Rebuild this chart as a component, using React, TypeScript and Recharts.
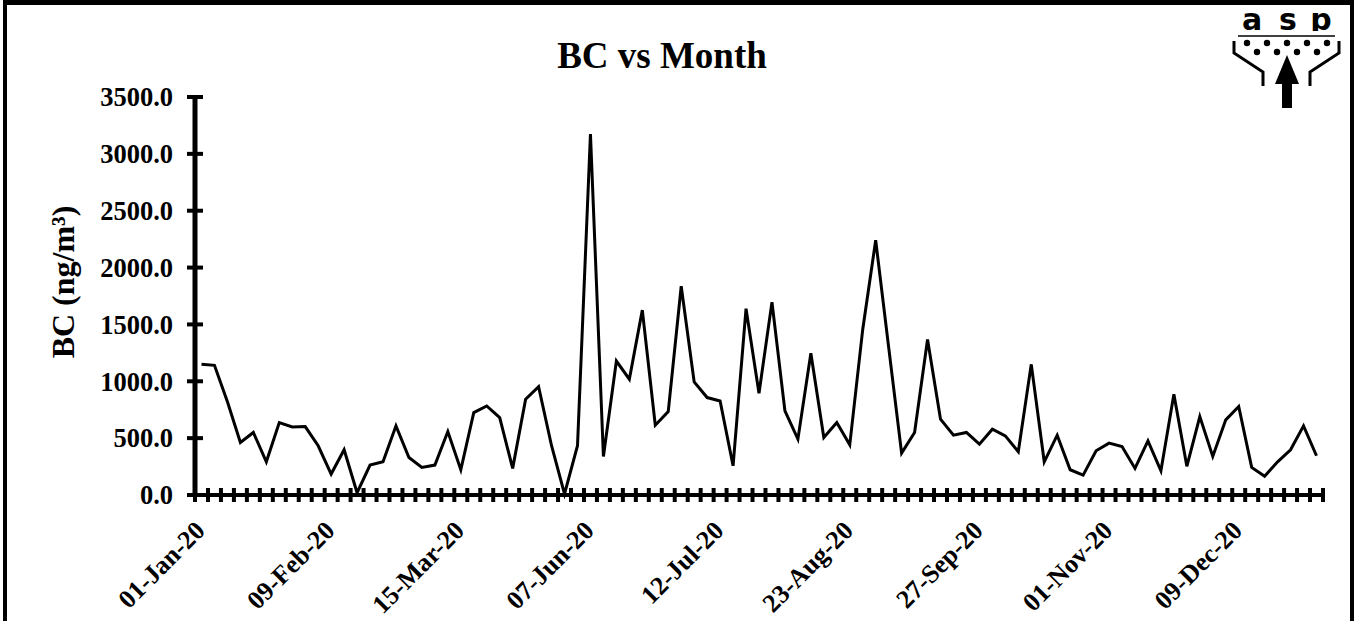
import React from "react"
import { LineChart, Line, XAxis, YAxis } from "recharts"

// BC readings (ng/m3), one per sampling day
const bcValues = [
  1150, 1140, 820, 462, 550, 292, 637, 599, 602, 433,
  184, 398, 20, 263, 292, 608, 330, 243, 263, 558,
  222, 725, 783, 681, 234, 842, 953, 433, 10, 433,
  3175, 339, 1178, 1018, 1626, 614, 734, 1836, 994, 857,
  827, 257, 1638, 895, 1696, 740, 491, 1246, 506, 637,
  441, 1456, 2240, 1300, 368, 550, 1368, 667, 526, 550,
  447, 579, 520, 380, 1149, 292, 526, 222, 175, 389,
  456, 427, 234, 476, 213, 886, 252, 690, 339, 661,
  778, 243, 164, 292, 398, 608, 345,
]

// labelled every 10th sample
const tickLabels = [
  "01-Jan-20", "09-Feb-20", "15-Mar-20", "07-Jun-20", "12-Jul-20",
  "23-Aug-20", "27-Sep-20", "01-Nov-20", "09-Dec-20",
]
const labelEvery = 10

const yTicks = [0, 500, 1000, 1500, 2000, 2500, 3000, 3500]

const W = 1361
const H = 621
const margin = { top: 97, right: 38, left: 0, bottom: 0 }
const yAxisWidth = 195
const xAxisHeight = 126
const padX = 6.5
const plotW = W - margin.left - margin.right - yAxisWidth
const step = (plotW - 2 * padX) / (bcValues.length - 1)

const data = bcValues.map((bc, i) => ({ idx: i, bc }))

const serif = '"Liberation Serif", "Times New Roman", serif'

function XTick(props: any) {
  const { x, y } = props
  const i = Number(props.payload?.value)
  const label = i % labelEvery === 0 ? tickLabels[i / labelEvery] : null
  const lx = x + 5
  const ly = y + 37
  return (
    <g>
      <line x1={x - step / 2} x2={x - step / 2} y1={y - 7} y2={y + 7} stroke="#000" strokeWidth={4} />
      {i === bcValues.length - 1 && (
        <line x1={x + step / 2} x2={x + step / 2} y1={y - 7} y2={y + 7} stroke="#000" strokeWidth={4} />
      )}
      {label && (
        <text
          x={lx}
          y={ly}
          transform={`rotate(-45 ${lx} ${ly})`}
          textAnchor="end"
          fontFamily={serif}
          fontWeight="bold"
          fontSize={26}
          fill="#000"
        >
          {label}
        </text>
      )}
    </g>
  )
}

function YTick({ x, y, payload }: any) {
  return (
    <g>
      <line x1={x - 8} x2={x + 8} y1={y} y2={y} stroke="#000" strokeWidth={4} />
      <text
        x={x - 22}
        y={y}
        dy="0.35em"
        textAnchor="end"
        fontFamily={serif}
        fontWeight="bold"
        fontSize={26.5}
        fill="#000"
      >
        {Number(payload.value).toFixed(1)}
      </text>
    </g>
  )
}

const logoFont = '"DejaVu Sans", "Liberation Sans", Arial, sans-serif'

function Logo() {
  const dotsTop = [1247, 1267, 1287, 1307, 1327]
  const dotsBottom = [1257, 1277, 1297, 1317]
  return (
    <g>
      <text x={1252} y={30} textAnchor="middle" fontFamily={logoFont} fontWeight={900} fontSize={30}>a</text>
      <text x={1288} y={30} textAnchor="middle" fontFamily={logoFont} fontWeight={900} fontSize={30}>s</text>
      <text x={1321} y={30} textAnchor="middle" fontFamily={logoFont} fontWeight={900} fontSize={30}>p</text>
      <rect x={1226} y={31} width={114} height={6} fill="#fff" />
      <line x1={1238} x2={1335} y1={36} y2={36} stroke="#000" strokeWidth={1.5} />
      {dotsTop.map((cx) => (
        <circle key={cx} cx={cx} cy={43} r={3.2} fill="#000" />
      ))}
      {dotsBottom.map((cx) => (
        <circle key={cx} cx={cx} cy={52} r={3.2} fill="#000" />
      ))}
      <polyline points="1234,41 1234,53 1263,72 1263,86" fill="none" stroke="#000" strokeWidth={3} />
      <polyline points="1339,41 1339,53 1310,72 1310,86" fill="none" stroke="#000" strokeWidth={3} />
      <polygon points="1287,55 1275,84 1299,84" fill="#000" />
      <rect x={1282} y={83} width={10} height={25} fill="#000" />
    </g>
  )
}

export default function App() {
  return (
    <div
      style={{
        position: "fixed",
        left: 0,
        top: 0,
        width: W,
        height: H,
        background: "#fff",
        overflow: "hidden",
      }}
    >
      <div style={{ position: "absolute", left: 0, top: 0 }}>
        <LineChart width={W} height={H} data={data} margin={margin}>
          <XAxis
            dataKey="idx"
            type="category"
            interval={0}
            padding={{ left: padX, right: padX }}
            height={xAxisHeight}
            tickSize={0}
            tickMargin={0}
            tickLine={false}
            axisLine={{ stroke: "#000", strokeWidth: 4 }}
            tick={<XTick />}
          />
          <YAxis
            width={yAxisWidth}
            domain={[0, 3500]}
            ticks={yTicks}
            interval={0}
            tickSize={0}
            tickMargin={0}
            tickLine={false}
            axisLine={{ stroke: "#000", strokeWidth: 5 }}
            tick={<YTick />}
          />
          <Line
            type="linear"
            dataKey="bc"
            stroke="#000"
            strokeWidth={3}
            dot={false}
            isAnimationActive={false}
          />
        </LineChart>
      </div>
      <svg
        width={W}
        height={H}
        style={{ position: "absolute", left: 0, top: 0, pointerEvents: "none" }}
      >
        <text x={662} y={68} textAnchor="middle" fontFamily={serif} fontWeight="bold" fontSize={37} fill="#000">
          BC vs Month
        </text>
        <text
          x={0}
          y={0}
          transform="translate(74 282) rotate(-90)"
          textAnchor="middle"
          fontFamily={serif}
          fontWeight="bold"
          fontSize={32}
          fill="#000"
        >
          BC (ng/m³)
        </text>
        <Logo />
      </svg>
      <div
        style={{
          position: "absolute",
          left: 3,
          top: 0,
          width: 1351,
          height: 700,
          border: "4px solid #000",
          borderTopWidth: 5,
          boxSizing: "border-box",
          pointerEvents: "none",
        }}
      />
    </div>
  )
}
